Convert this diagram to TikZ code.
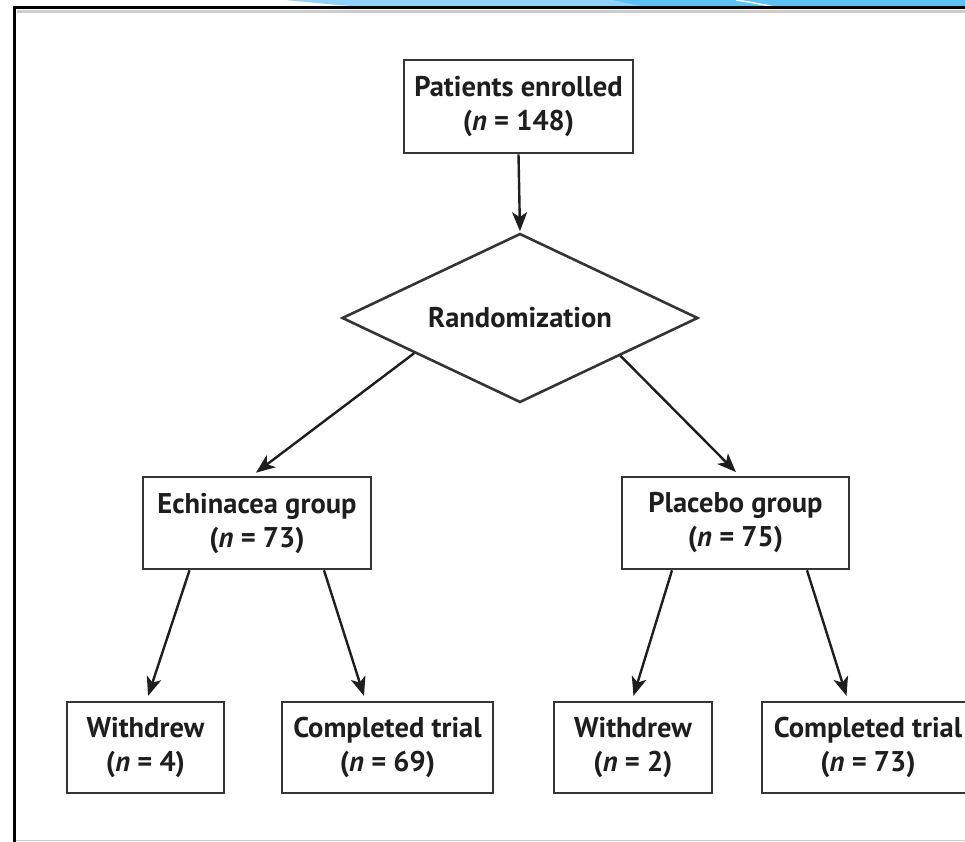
\documentclass[tikz,border=0pt]{standalone}
\usepackage{fontspec}
\setmainfont{PT Sans}
\usetikzlibrary{shapes.geometric,arrows.meta,calc}
\definecolor{lightblue}{HTML}{8ED1FA}
\definecolor{darkblue}{HTML}{5EC1F4}
\definecolor{ink}{HTML}{1E1E1E}
\begin{document}
\begin{tikzpicture}[x=1pt,y=-1pt,
  txt/.style={font=\fontsize{28.5}{34}\selectfont\bfseries, text=ink, align=center},
  box/.style={txt, draw=ink!90, line width=2.6pt, rectangle, inner sep=0pt, fill=white},
  decision/.style={txt, draw=ink!90, line width=2.6pt, diamond, aspect=2.1, inner sep=0pt, fill=white},
  arr/.style={draw=ink, line width=2.4pt, -{Stealth[length=19pt,width=15pt,inset=5pt]}, shorten >=5pt}]
\useasboundingbox (0,0) rectangle (965,842);
\clip (0,0) rectangle (965,842);
\fill[white] (0,0) rectangle (965,842);
% blue decoration at the top
\fill[lightblue] (285,0) .. controls (320,3) and (345,6.5) .. (375,7) -- (965,7) -- (965,0) -- cycle;
\fill[darkblue] (612,0) .. controls (625,2.5) and (636,5.5) .. (648,7) -- (965,7) -- (965,0) -- cycle;
\draw[white, line width=1.4pt] (736,0) .. controls (750,2) and (762,4.5) .. (775,7);
% frame
\draw[black!20, line width=3pt] (17,12) -- (965,12);
\draw[black!20, line width=1.5pt] (14,840.5) -- (965,840.5);
\draw[black, line width=3pt] (14,842) -- (14,7.5) -- (965,7.5);
% nodes
\node[box, minimum width=229pt, minimum height=93pt] (enr) at (518.5,106.5) {Patients enrolled\\(\textit{n} = 148)};
\node[decision, minimum width=356pt, minimum height=169pt] (rand) at (520,318) {Randomization};
\node[box, minimum width=228pt, minimum height=92pt] (ech) at (257,523) {Echinacea group\\(\textit{n} = 73)};
\node[box, minimum width=227pt, minimum height=92pt] (plc) at (735.5,523) {Placebo group\\(\textit{n} = 75)};
\node[box, minimum width=157pt, minimum height=91pt] (w1) at (145.5,747.5) {Withdrew\\(\textit{n} = 4)};
\node[box, minimum width=211pt, minimum height=91pt] (c1) at (387.5,747.5) {Completed trial\\(\textit{n} = 69)};
\node[box, minimum width=158pt, minimum height=91pt] (w2) at (633,747.5) {Withdrew\\(\textit{n} = 2)};
\node[box, minimum width=212pt, minimum height=91pt] (c2) at (868,747.5) {Completed trial\\(\textit{n} = 73)};
% connectors
\draw[arr, shorten >=1pt] (enr.south) -- (rand.north);
\draw[arr] ($(rand.west)!0.41!(rand.south)$) -- ([xshift=-5pt]ech.north);
\draw[arr] ($(rand.east)!0.44!(rand.south)$) -- ([xshift=4pt]plc.north);
\draw[arr] ([xshift=-67.5pt]ech.south) -- ([xshift=1pt]w1.north);
\draw[arr] ([xshift=67pt]ech.south) -- ([xshift=-22pt]c1.north);
\draw[arr] ([xshift=-63.5pt]plc.south) -- ([xshift=-1pt]w2.north);
\draw[arr] ([xshift=71.5pt]plc.south) -- ([xshift=-20pt]c2.north);
\end{tikzpicture}
\end{document}
